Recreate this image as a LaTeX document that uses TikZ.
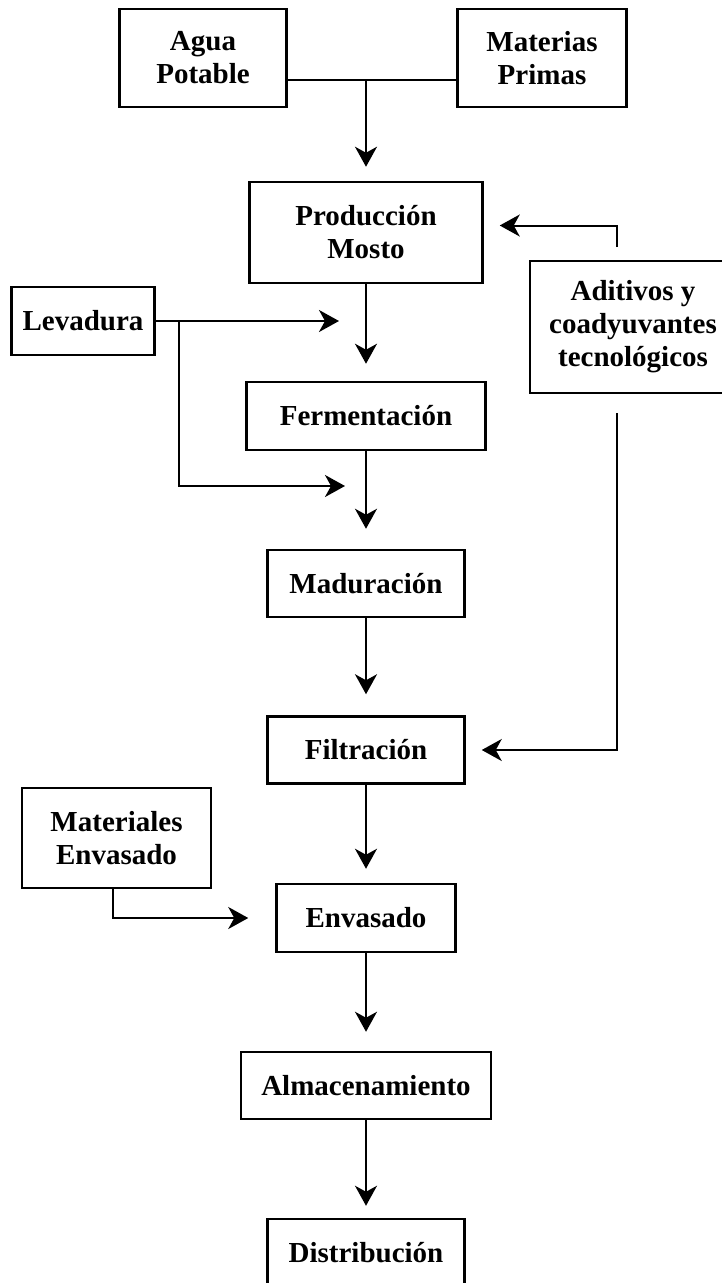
\documentclass[tikz,border=0pt]{standalone}
\usepackage{fontspec}
\setmainfont{Liberation Serif}
\usetikzlibrary{arrows.meta}

\tikzset{
	box/.style={draw, line width=2.5pt, align=center, inner sep=0pt,
		font=\bfseries\fontsize{29}{33}\selectfont},
	link/.style={line width=2pt},
	flow/.style={link, -{Stealth[length=20pt, width=22pt, inset=6pt]}},
}

\begin{document}
\begin{tikzpicture}[x=1pt, y=-1pt]
		\useasboundingbox (0,0) rectangle (721,1283);
		
		%definition of the main axis
		\def\xC{366};
		
		%inputs
		\node [box, minimum width=167pt, minimum height=98pt] (agua) at (203,58) {Agua\\Potable};
		\node [box, minimum width=169pt, minimum height=98pt] (materias) at (542,58) {Materias\\Primas};
		\node [box, minimum width=143pt, minimum height=68pt] (levadura) at (83,321) {Levadura};
		\node [box, minimum width=206pt, minimum height=132pt] (aditivos) at (633,327) {Aditivos y\\coadyuvantes\\tecnológicos};
		\node [box, minimum width=189pt, minimum height=100pt] (materiales) at (116.5,838) {Materiales\\Envasado};
		
		%process steps
		\node [box, minimum width=233pt, minimum height=101pt] (produccion) at (\xC,232.5) {Producción\\Mosto};
		\node [box, minimum width=239pt, minimum height=68pt] (fermentacion) at (\xC,416) {Fermentación};
		\node [box, minimum width=197pt, minimum height=67pt] (maduracion) at (\xC,583.5) {Maduración};
		\node [box, minimum width=197pt, minimum height=67pt] (filtracion) at (\xC,750) {Filtración};
		\node [box, minimum width=179pt, minimum height=68pt] (envasado) at (\xC,918) {Envasado};
		\node [box, minimum width=250pt, minimum height=67pt] (almacenamiento) at (\xC,1085.5) {Almacenamiento};
		\node [box, minimum width=197pt, minimum height=67pt] (distribucion) at (\xC,1252.5) {Distribución};
		
		%free ends of connectors
		\coordinate (join) at (\xC,80);
		\coordinate (lev split) at (179,321);
		\coordinate (lev tip1) at (339,321);
		\coordinate (lev tip2) at (345,486);
		\coordinate (adit up) at (617,247);
		\coordinate (adit down) at (617,413);
		
		%water and raw materials
		\draw [link] ([yshift=-22pt]agua.east) -- ([yshift=-22pt]materias.west);
		\draw [flow, shorten >=14pt] (join) -- (produccion);
		
		%main line
		\draw [flow, shorten >=17pt] (produccion) -- (fermentacion);
		\draw [flow, shorten >=20pt] (fermentacion) -- (maduracion);
		\draw [flow, shorten >=21pt] (maduracion) -- (filtracion);
		\draw [flow, shorten >=14pt] (filtracion) -- (envasado);
		\draw [flow, shorten >=19pt] (envasado) -- (almacenamiento);
		\draw [flow, shorten >=12pt] (almacenamiento) -- (distribucion);
		
		%yeast
		\draw [flow] (levadura.east) -- (lev tip1);
		\draw [flow] (lev split) |- (lev tip2);
		
		%additives
		\draw [flow, shorten >=16pt] (adit up) |- ([yshift=7pt]produccion.east);
		\draw [flow, shorten >=16pt] (adit down) |- (filtracion.east);
		
		%packaging materials
		\draw [flow, shorten >=27pt] ([xshift=-4pt]materiales.south) |- (envasado.west);
	\end{tikzpicture}
\end{document}
